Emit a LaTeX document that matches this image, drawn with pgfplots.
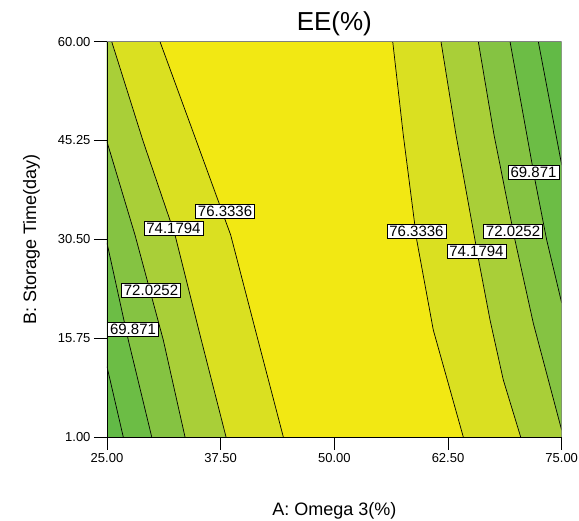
\documentclass[border=0pt]{standalone}
\usepackage{pgfplots}
\pgfplotsset{compat=1.18}
\usepackage{fontspec}
\setmainfont{Liberation Sans}

% band colours, low (dark green) to high (yellow)
\definecolor{cA}{RGB}{98,186,70}
\definecolor{cB}{RGB}{108,189,69}
\definecolor{cC}{RGB}{133,195,66}
\definecolor{cD}{RGB}{169,207,56}
\definecolor{cE}{RGB}{218,224,33}
\definecolor{cF}{RGB}{242,232,19}

\tikzset{clab/.style={draw=black, line width=0.5pt, fill=white,
  inner xsep=2.5pt, inner ysep=1.6pt, font=\fontsize{15}{15}\selectfont}}

\begin{document}
\begin{tikzpicture}
\useasboundingbox (-107pt,-84pt) rectangle (472pt,437pt);
\begin{axis}[
    at={(0,0)}, anchor=south west,
    scale only axis, width=454.7pt, height=395.3pt,
    xmin=25, xmax=75, ymin=1, ymax=60,
    xtick={25,37.5,50,62.5,75},
    ytick={1,15.75,30.5,45.25,60},
    axis x line*=bottom, axis y line*=left,
    axis line style={black, line width=0.8pt},
    tick align=outside, major tick length=13pt,
    tick style={black, line width=0.7pt},
    axis on top,
    /pgf/number format/.cd, fixed, fixed zerofill, precision=2,
        assume math mode=true, /pgfplots/.cd,
    tick label style={font=\fontsize{13}{13}\selectfont},
    title={EE(\%)},
    title style={at={(axis description cs:0.5,1.0127)}, anchor=base,
        font=\fontsize{26}{26}\selectfont},
    xlabel={A: Omega 3(\%)},
    xlabel style={at={(axis description cs:0.5,-0.1985)}, anchor=base,
        font=\fontsize{18}{18}\selectfont},
    ylabel={B: Storage Time(day)},
    ylabel style={at={(axis description cs:-0.1561,0.5)}, anchor=base,
        font=\fontsize{18}{18}\selectfont},
]
% filled bands (each polygon = region above a contour level)
\addplot[fill=cA, draw=none] coordinates {(25,1) (75,1) (75,60) (25,60)};
\addplot[fill=cB, draw=none] coordinates {
  (25,11.5) (26.79,1) (75,1) (75,41.6) (72.43,60) (25,60)};
\addplot[fill=cC, draw=none] coordinates {
  (25,29.96) (27.34,15.48) (29.92,1) (75,1) (75,21) (73.35,30.4)
  (72.06,39.36) (69.32,60) (25,60)};
\addplot[fill=cD, draw=none] coordinates {
  (25,45.07) (28.08,31.15) (31.19,15.48) (33.58,1) (75,1) (75,2)
  (71.88,17.97) (69.86,30.4) (67.56,46.07) (65.83,60) (25,60)};
\addplot[fill=cE, draw=none] coordinates {
  (25.52,60) (28.99,45.07) (32.48,31.15) (35.23,16.22) (38.09,1)
  (70.49,1) (68.58,9.51) (67.12,18.46) (65.83,27.67) (63.38,46.07) (61.73,60)};
\addplot[fill=cF, draw=none] coordinates {
  (30.83,60) (34.86,45.07) (38.60,31.15) (41.46,16.22) (44.39,1)
  (64.18,1) (60.88,16.97) (59.06,30.4) (57.58,46.07) (56.42,60)};

% contour lines
\addplot[black, line width=0.7pt] coordinates {(25,11.5) (26.79,1)};
\addplot[black, line width=0.7pt] coordinates {(25,29.96) (27.34,15.48) (29.92,1)};
\addplot[black, line width=0.7pt] coordinates {(25,45.07) (28.08,31.15) (31.19,15.48) (33.58,1)};
\addplot[black, line width=0.7pt] coordinates {(25.52,60) (28.99,45.07) (32.48,31.15) (35.23,16.22) (38.09,1)};
\addplot[black, line width=0.7pt] coordinates {(30.83,60) (34.86,45.07) (38.60,31.15) (41.46,16.22) (44.39,1)};
\addplot[black, line width=0.7pt] coordinates {(56.42,60) (57.58,46.07) (59.06,30.4) (60.88,16.97) (64.18,1)};
\addplot[black, line width=0.7pt] coordinates {(61.73,60) (63.38,46.07) (65.83,27.67) (67.12,18.46) (68.58,9.51) (70.49,1)};
\addplot[black, line width=0.7pt] coordinates {(65.83,60) (67.56,46.07) (69.86,30.4) (71.88,17.97) (75,2)};
\addplot[black, line width=0.7pt] coordinates {(69.32,60) (72.06,39.36) (73.35,30.4) (75,21)};
\addplot[black, line width=0.7pt] coordinates {(72.43,60) (75,41.6)};

% grey top and right frame
\draw[gray, line width=0.9pt] (rel axis cs:0,1) -- (rel axis cs:1,1) -- (rel axis cs:1,0);

% contour labels
\node[clab] at (axis cs:37.98,34.66) {76.3336};
\node[clab] at (axis cs:32.31,32.19) {74.1794};
\node[clab] at (axis cs:29.84,22.87) {72.0252};
\node[clab] at (axis cs:27.86,17.04) {69.871};
\node[clab] at (axis cs:59.03,31.75) {76.3336};
\node[clab] at (axis cs:65.63,28.76) {74.1794};
\node[clab] at (axis cs:69.65,31.75) {72.0252};
\node[clab] at (axis cs:71.90,40.55) {69.871};
\end{axis}
\end{tikzpicture}
\end{document}
